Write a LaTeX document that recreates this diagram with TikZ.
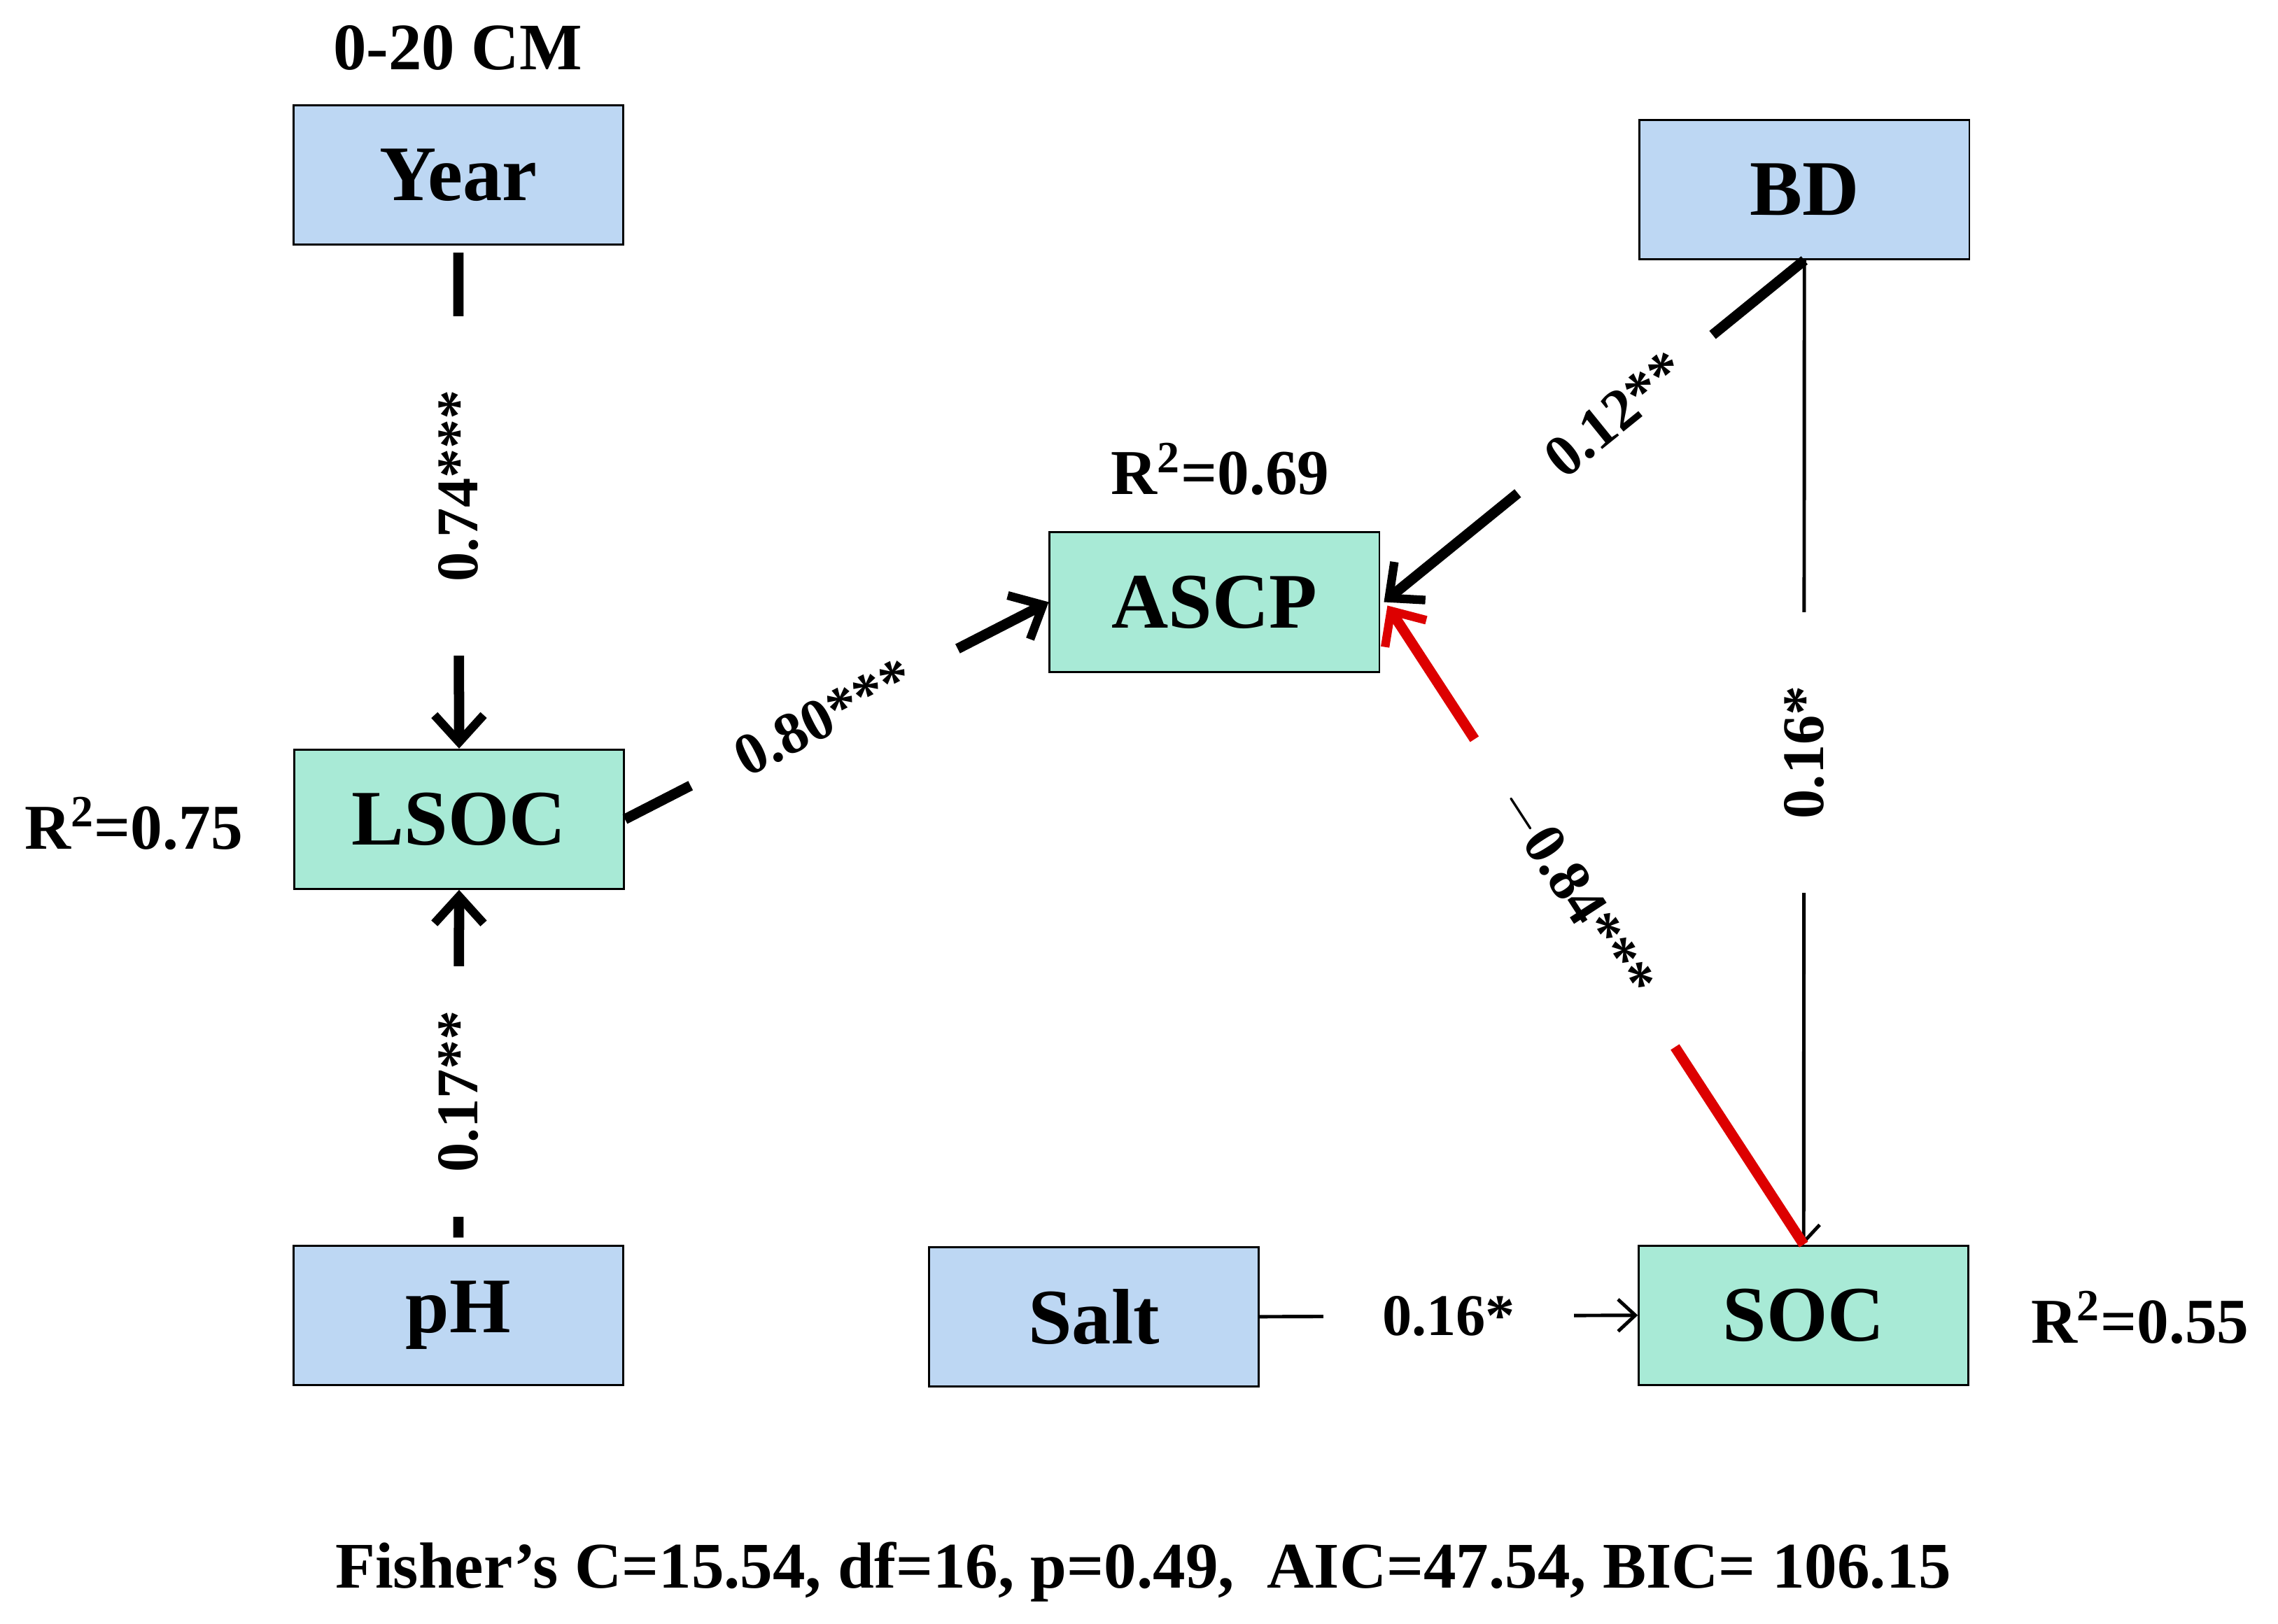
\documentclass[tikz,border=0pt]{standalone}
\usepackage{fontspec}
\setmainfont{Liberation Serif}
\usetikzlibrary{arrows.meta}
\definecolor{bbox}{HTML}{BDD7F3}
\definecolor{gbox}{HTML}{A8EAD6}
\definecolor{redl}{HTML}{DD0000}
\begin{document}
\begin{tikzpicture}[x=0.02076cm,y=-0.02076cm,
  box/.style={draw=black,line width=0.8pt,minimum width=227*0.02076cm,minimum height=96*0.02076cm,font=\fontsize{32}{32}\selectfont\bfseries,inner sep=0pt},
  lab/.style={font=\fontsize{25}{25}\selectfont\bfseries},
  elab/.style={font=\fontsize{24}{24}\selectfont\bfseries,fill=white,inner xsep=16pt,inner ysep=2pt},
  thick arr/.style={line width=4.2pt,-{Straight Barb[length=11pt,width=20pt,line width=3.5pt]}},
  thin arr/.style={line width=1.4pt,-{Straight Barb[length=7pt,width=13pt,line width=1.4pt]}}]
\fill[white] (0,0) rectangle (1568,1118);
\node[box,fill=bbox] (year) at (315.5,120.5) {Year};
\node[box,fill=bbox] (bd) at (1242,130.5) {BD};
\node[box,fill=gbox] (ascp) at (836,414.5) {ASCP};
\node[box,fill=gbox] (lsoc) at (316,564) {LSOC};
\node[box,fill=bbox] (ph) at (315.5,905.5) {pH};
\node[box,fill=bbox] (salt) at (753,906.5) {Salt};
\node[box,fill=gbox] (soc) at (1241.5,905.5) {SOC};
\node[lab,font=\fontsize{27}{27}\selectfont\bfseries] (t) at (315,33) {0-20 CM};
\node[lab,font=\fontsize{26}{26}\selectfont\bfseries] (r1) at (840,323) {R\textsuperscript{2}=0.69};
\node[lab,font=\fontsize{26}{26}\selectfont\bfseries] (r2) at (92,567) {R\textsuperscript{2}=0.75};
\node[lab,font=\fontsize{26}{26}\selectfont\bfseries] (r3) at (1473,907) {R\textsuperscript{2}=0.55};
\node[font=\fontsize{26.5}{26.5}\selectfont\bfseries] (f) at (787,1082) {Fisher’s C=15.54, df=16, p=0.49,\ \ AIC=47.54, BIC= 106.15};
\draw[thick arr] ([yshift=-0.1cm]year.south) -- node[elab,pos=0.47,inner xsep=30pt,rotate=90] {0.74***} (lsoc.north);
\draw[thick arr] ([yshift=0.1cm]ph.north) -- node[elab,pos=0.42,inner xsep=18pt,rotate=90] {0.17**} (lsoc.south);
\draw[thick arr] (lsoc.east) -- node[elab,pos=0.47,inner xsep=22pt,rotate=27] {0.80***} (ascp.west);
\draw[thick arr] (bd.south) -- node[elab,pos=0.45,inner xsep=18pt,rotate=39] {0.12**} ([xshift=0.05cm]ascp.east);
\draw[thin arr] (bd.south) -- node[elab,inner xsep=30pt,pos=0.5,rotate=90] {0.16*} (soc.north);
\draw[thick arr,draw=redl] (soc.north) -- node[elab,pos=0.55,inner xsep=26pt,text=black,rotate=-57] {$-$0.84***} ([xshift=0.1cm,yshift=-0.05cm]ascp.east);
\draw[thin arr] (salt.east) -- node[elab,inner xsep=24pt,pos=0.5] {0.16*} (soc.west);
\end{tikzpicture}
\end{document}
